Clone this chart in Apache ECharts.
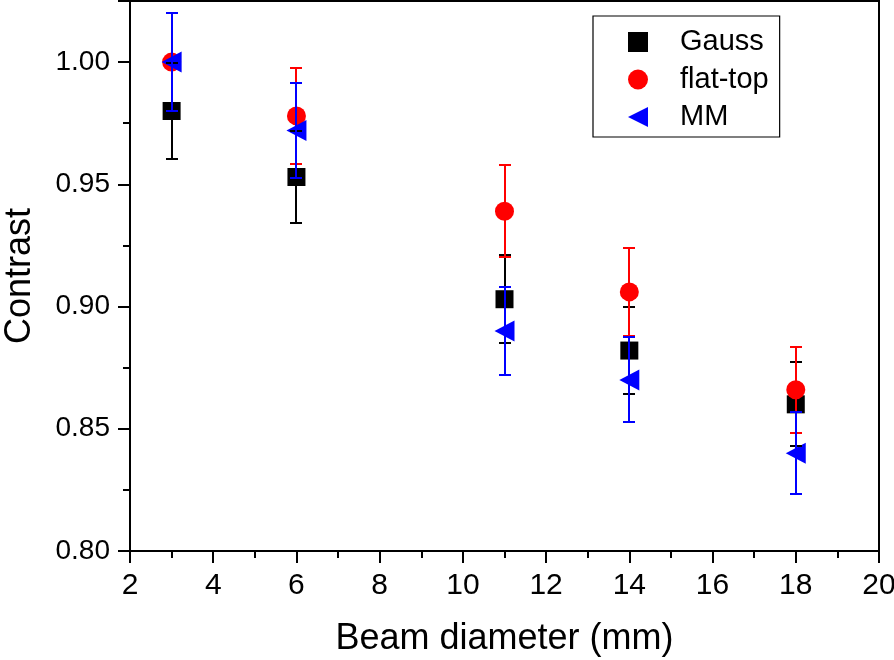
<!DOCTYPE html>
<html>
<head>
<meta charset="utf-8">
<script src="https://cdn.jsdelivr.net/npm/echarts@6/dist/echarts.min.js"></script>
<style>
html,body{margin:0;padding:0;background:#fff;}
#chart{width:894px;height:660px;}
</style>
</head>
<body>
<div id="chart"></div>
<script>
// ---- data ----
const xVals = [3, 6, 11, 14, 18];
const seriesNames = ['Gauss', 'flat-top', 'MM'];
const gauss = [0.980, 0.953, 0.903, 0.882, 0.860];
const gaussErr = [0.0196, 0.0190, 0.0180, 0.0177, 0.0172];
const flatTop = [1.000, 0.978, 0.939, 0.906, 0.866];
const flatTopErr = [0.0200, 0.0196, 0.0188, 0.0180, 0.0176];
const mm = [1.000, 0.972, 0.890, 0.870, 0.840];
const mmErr = [0.0200, 0.0196, 0.0178, 0.0174, 0.0168];
const xTicks = {min: 2, max: 20, interval: 2};
const yTicks = {min: 0.80, max: 1.025, interval: 0.05};

const FONT = "'Liberation Sans', Arial, Helvetica, sans-serif";
const colors = ['#000000', '#ff0000', '#0000ff'];
const symbols = ['rect', 'circle', 'path://M0,10 L20,0 L20,20 Z'];
const sizes = [18, 19, [20, 21]];
const values = [gauss, flatTop, mm];
const errs = [gaussErr, flatTopErr, mmErr];

const chart = echarts.init(document.getElementById('chart'));

const scatterSeries = seriesNames.map((name, i) => ({
  name: name,
  type: 'scatter',
  symbol: symbols[i],
  symbolSize: sizes[i],
  itemStyle: {color: colors[i], opacity: 1},
  z: 2 + i * 0.1,
  data: xVals.map((x, k) => [x, values[i][k]])
}));

const errorSeries = seriesNames.map((name, i) => ({
  name: name + ' err',
  type: 'custom',
  z: 5 + i * 0.1,
  silent: true,
  data: xVals.map((x, k) => [x, values[i][k] - errs[i][k], values[i][k] + errs[i][k]]),
  renderItem: function (params, api) {
    const lo = api.coord([api.value(0), api.value(1)]);
    const hi = api.coord([api.value(0), api.value(2)]);
    const cx = Math.round(lo[0]);
    const yl = Math.round(lo[1]);
    const yh = Math.round(hi[1]);
    const hw = 6;
    const style = {stroke: colors[i], lineWidth: 2, fill: null};
    return {
      type: 'group',
      children: [
        {type: 'line', shape: {x1: cx, y1: yl, x2: cx, y2: yh}, style: style},
        {type: 'line', shape: {x1: cx - hw, y1: yl, x2: cx + hw, y2: yl}, style: style},
        {type: 'line', shape: {x1: cx - hw, y1: yh, x2: cx + hw, y2: yh}, style: style}
      ]
    };
  }
}));

const option = {
  animation: false,
  backgroundColor: '#ffffff',
  grid: {
    left: 130, right: 15, top: 1, bottom: 109,
    containLabel: false, outerBoundsMode: 'none',
    show: true, borderColor: '#000', borderWidth: 2, backgroundColor: 'transparent'
  },
  legend: {
    data: seriesNames.map((n, i) => ({name: n, icon: symbols[i]})),
    orient: 'vertical',
    left: 593, top: 16,
    padding: [11, 11, 5, 35],
    itemWidth: 20, itemHeight: 20,
    itemGap: 7.5,
    borderColor: '#000', borderWidth: 1.2,
    backgroundColor: '#fff',
    textStyle: {fontFamily: FONT, fontSize: 29, color: '#000', lineHeight: 30, padding: [0, 0, 0, 27]}
  },
  xAxis: {
    type: 'value',
    min: xTicks.min, max: xTicks.max, interval: xTicks.interval,
    name: 'Beam diameter (mm)',
    nameLocation: 'middle', nameGap: 70,
    nameTextStyle: {fontFamily: FONT, fontSize: 36, color: '#000'},
    axisLine: {show: true, onZero: false, lineStyle: {color: '#000', width: 2}},
    axisTick: {show: true, inside: false, length: 12, lineStyle: {color: '#000', width: 2}},
    minorTick: {show: true, splitNumber: 2, length: 7, lineStyle: {color: '#000', width: 2}},
    splitLine: {show: false},
    axisLabel: {fontFamily: FONT, fontSize: 30, color: '#000', margin: 20}
  },
  yAxis: {
    type: 'value',
    min: yTicks.min, max: yTicks.max, interval: yTicks.interval,
    name: 'Contrast',
    nameLocation: 'middle', nameGap: 92, nameRotate: 90,
    nameTextStyle: {fontFamily: FONT, fontSize: 36, color: '#000'},
    axisLine: {show: true, onZero: false, lineStyle: {color: '#000', width: 2}},
    axisTick: {show: true, inside: false, length: 12, lineStyle: {color: '#000', width: 2}},
    minorTick: {show: true, splitNumber: 2, length: 7, lineStyle: {color: '#000', width: 2}},
    splitLine: {show: false},
    axisLabel: {
      fontFamily: FONT, fontSize: 28, color: '#000', margin: 20,
      showMaxLabel: false,
      formatter: v => (v > 1.001 ? '' : v.toFixed(2))
    }
  },
  series: scatterSeries.concat(errorSeries)
};
chart.setOption(option);
</script>
</body>
</html>
